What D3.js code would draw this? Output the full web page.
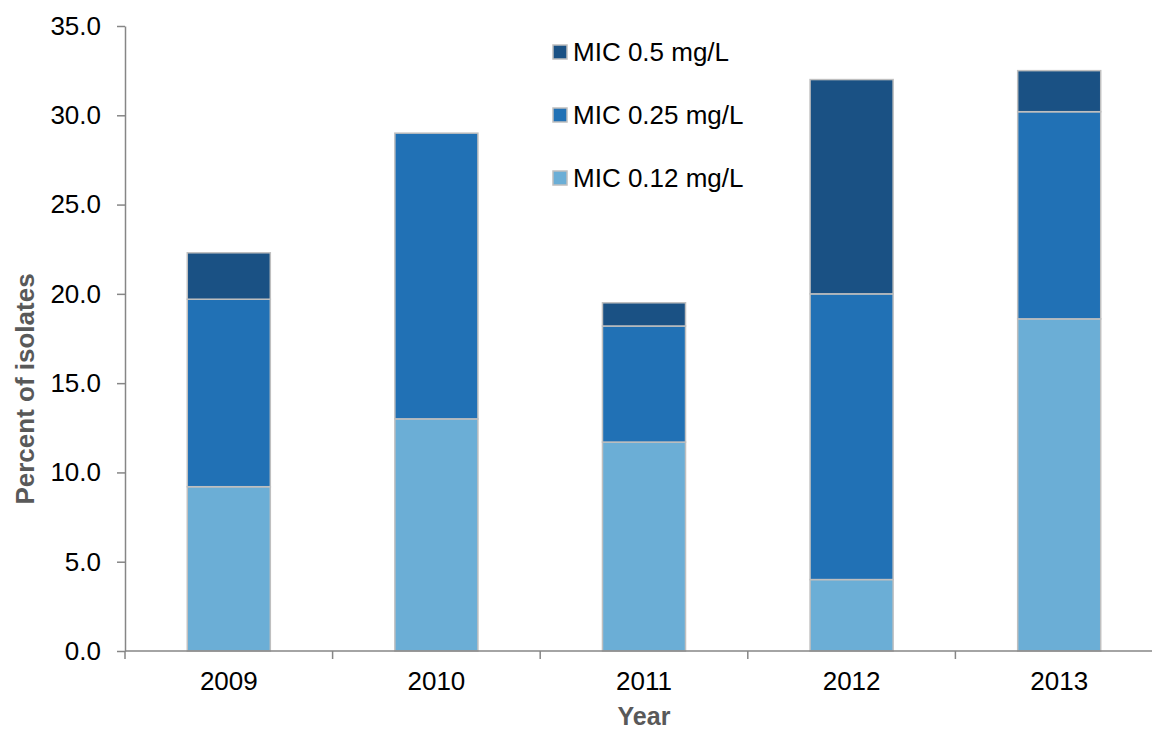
<!DOCTYPE html>
<html>
<head>
<meta charset="utf-8">
<script src="https://cdn.jsdelivr.net/npm/d3@7"></script>
<style>
  html, body { margin: 0; padding: 0; background: #fff; }
  svg { display: block; font-family: "Liberation Sans", Arial, sans-serif; }
</style>
</head>
<body>
<svg id="chart" width="1152" height="731"></svg>
<script>
// Years on the category axis
const years = ["2009", "2010", "2011", "2012", "2013"];

// Percent of isolates in each MIC band (stacked bottom to top)
const mic012 = [9.2, 13.0, 11.7, 4.0, 18.6];
const mic025 = [10.5, 16.0, 6.5, 16.0, 11.6];
const mic05  = [2.6, 0.0, 1.3, 12.0, 2.3];

const seriesNames = ["MIC 0.12 mg/L", "MIC 0.25 mg/L", "MIC 0.5 mg/L"];
const seriesColors = ["#6baed6", "#2171b5", "#1a5184"];
const yTicks = [0, 5, 10, 15, 20, 25, 30, 35];

const svg = d3.select("#chart");
const W = 1152, H = 731;
const plotLeft = 125, plotRight = 1163, plotTop = 26, plotBottom = 651;
const fontPx = "26px";

const rows = years.map((yr, i) => ({ year: yr, a: mic012[i], b: mic025[i], c: mic05[i] }));
const stack = d3.stack().keys(["a", "b", "c"])(rows);

const x = d3.scaleBand().domain(years).range([plotLeft, plotRight]).paddingInner(0.6).paddingOuter(0.3);
const xCat = d3.scaleBand().domain(years).range([plotLeft, plotRight]);
const y = d3.scaleLinear().domain([0, 35]).range([plotBottom, plotTop]);

// Stacked bars
const layers = svg.append("g").selectAll("g").data(stack).join("g")
  .attr("fill", (d, i) => seriesColors[i]);
layers.selectAll("rect").data(d => d.filter(s => s[1] - s[0] > 0)).join("rect")
  .attr("x", d => x(d.data.year))
  .attr("width", x.bandwidth())
  .attr("y", d => y(d[1]))
  .attr("height", d => y(d[0]) - y(d[1]))
  .attr("stroke", "#bfbfbf")
  .attr("stroke-width", 1.5);

// Y axis
const yAxis = svg.append("g").attr("transform", `translate(${plotLeft},0)`)
  .call(d3.axisLeft(y).tickValues(yTicks).tickFormat(d3.format(".1f")).tickSize(8).tickPadding(16).tickSizeOuter(0));
yAxis.select(".domain").attr("stroke", "#868686").attr("stroke-width", 1.5);
yAxis.selectAll(".tick line").attr("stroke", "#868686").attr("stroke-width", 1.5);
yAxis.selectAll(".tick text").attr("fill", "#000").style("font-size", fontPx)
  .style("font-family", "Liberation Sans, Arial, sans-serif");

// X axis: ticks at category boundaries, labels at category centers
const xAxisG = svg.append("g").attr("transform", `translate(0,${plotBottom})`);
xAxisG.append("line").attr("x1", plotLeft).attr("x2", W).attr("stroke", "#868686").attr("stroke-width", 1.5);
const bounds = years.map(d => xCat(d)).concat([plotRight]);
xAxisG.selectAll("line.tk").data(bounds).join("line").attr("class", "tk")
  .attr("x1", d => d).attr("x2", d => d).attr("y1", 0).attr("y2", 8)
  .attr("stroke", "#868686").attr("stroke-width", 1.5);
xAxisG.selectAll("text").data(years).join("text")
  .attr("x", d => xCat(d) + xCat.bandwidth() / 2)
  .attr("y", 39)
  .attr("text-anchor", "middle")
  .style("font-size", fontPx)
  .text(d => d);

// Axis titles
svg.append("text")
  .attr("x", (plotLeft + plotRight) / 2).attr("y", 725)
  .attr("text-anchor", "middle")
  .attr("fill", "#595959").attr("font-weight", "bold")
  .style("font-size", "25px")
  .text("Year");
svg.append("text")
  .attr("transform", "translate(34,389) rotate(-90)")
  .attr("text-anchor", "middle")
  .attr("fill", "#595959").attr("font-weight", "bold")
  .style("font-size", fontPx)
  .text("Percent of isolates");

// Legend (top-down: highest band first)
const legendOrder = [2, 1, 0];
const lg = svg.append("g").attr("transform", "translate(553,0)");
const item = lg.selectAll("g").data(legendOrder).join("g")
  .attr("transform", (d, i) => `translate(0,${52 + i * 63})`);
item.append("rect").attr("x", 0).attr("y", -7).attr("width", 14).attr("height", 14)
  .attr("fill", d => seriesColors[d]).attr("stroke", "#bfbfbf").attr("stroke-width", 1.5);
item.append("text").attr("x", 20).attr("y", 9)
  .style("font-size", fontPx)
  .text(d => seriesNames[d]);
</script>
</body>
</html>
